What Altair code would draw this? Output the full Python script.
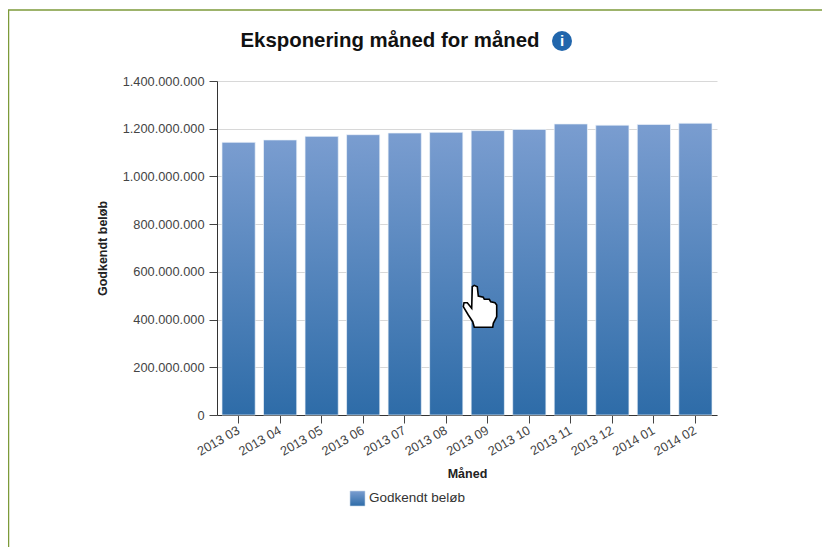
import altair as alt
import pandas as pd

months = ["2013 03", "2013 04", "2013 05", "2013 06", "2013 07", "2013 08",
          "2013 09", "2013 10", "2013 11", "2013 12", "2014 01", "2014 02"]
values = [1143000000, 1153000000, 1168000000, 1175000000, 1182000000, 1185000000,
          1192000000, 1197000000, 1220000000, 1215000000, 1218000000, 1223000000]
y_ticks = [0, 200000000, 400000000, 600000000, 800000000, 1000000000, 1200000000, 1400000000]

FONT = "Liberation Sans"
grad = alt.Gradient(gradient="linear", x1=0, y1=0, x2=0, y2=1, stops=[
    alt.GradientStop(offset=0, color="#7a9dd0"),
    alt.GradientStop(offset=1, color="#2e6ca8"),
])

df = pd.DataFrame({"month": months, "value": values})
one = pd.DataFrame({"a": [0]})

bars = alt.Chart(df).mark_bar(color=grad, stroke="#eef3f9", strokeWidth=0.7).encode(
    x=alt.X("month:N", sort=months,
            scale=alt.Scale(paddingInner=0.2, paddingOuter=0.12),
            axis=alt.Axis(title="Måned", labelAngle=-30, labelAlign="right", labelBaseline="middle",
                          labelFontSize=12.8, labelColor="#444444", labelFont=FONT, labelPadding=6,
                          titleFont=FONT, titleFontSize=12.5, titleFontWeight="bold", titleColor="#222222",
                          titlePadding=9, tickSize=8, tickColor="#444444", domainColor="#333333",
                          grid=False)),
    y=alt.Y("value:Q", scale=alt.Scale(domain=[0, 1400000000], nice=False),
            axis=alt.Axis(title="Godkendt beløb", values=y_ticks,
                          labelExpr="replace(format(datum.value, ','), /,/g, '.')",
                          labelFontSize=12.8, labelColor="#444444", labelFont=FONT, labelPadding=5,
                          titleFont=FONT, titleFontSize=12.5, titleFontWeight="bold", titleColor="#222222",
                          titlePadding=13, tickSize=8, tickColor="#444444", domainColor="#333333",
                          gridColor="#d8d8d8", grid=True)),
)

def text(label, x, y, **kw):
    return alt.Chart(one).mark_text(**kw).encode(
        x=alt.value(x), y=alt.value(y), text=alt.value(label))

# page frame (top and left rules)
frame_top = alt.Chart(one).mark_rule(color="#7d9a3a", strokeWidth=1.5).encode(
    x=alt.value(-209), x2=alt.value(605), y=alt.value(-71))
frame_left = alt.Chart(one).mark_rule(color="#7d9a3a", strokeWidth=1.5).encode(
    x=alt.value(-208.5), y=alt.value(-71), y2=alt.value(466))

title = text("Eksponering måned for måned", 173, -40, font=FONT, fontSize=20.4, fontWeight="bold",
             color="#111111")
info = alt.Chart(one).mark_point(filled=True, size=400, color="#2166ac", opacity=1).encode(
    x=alt.value(345), y=alt.value(-40))
info_i = text("i", 345, -40, font=FONT, fontSize=15, fontWeight="bold", color="white")

legend_box = alt.Chart(one).mark_rect(color=grad, stroke="#c8d6e8", strokeWidth=0.6).encode(
    x=alt.value(133), x2=alt.value(148), y=alt.value(76 + 334), y2=alt.value(91 + 334))
legend_txt = text("Godkendt beløb", 152, 83 + 334, font=FONT, fontSize=13.5, color="#333333", align="left")

hand_path = ("M-9.7,-19.3 L-7.7,-20.7 L-4.7,-19.3 L-3.7,-10 L1.3,-8.7 L2.3,-6.7 L7.3,-6.7 L8.7,-4.3 "
             "L13,-3.3 L14.7,-1 L14.7,10.7 L11.3,17.3 L10.7,21.3 L-7.7,21.3 L-9.3,15.7 L-13.7,9 "
             "L-18.7,0.7 L-18,-3.3 L-14.7,-3.3 L-10.3,2.3 Z")
hand = alt.Chart(one).mark_point(shape=hand_path, filled=True, size=4, fill="white", stroke="black",
                                 strokeWidth=1.6, opacity=1, fillOpacity=1).encode(
    x=alt.value(265), y=alt.value(225))

chart = alt.layer(bars, frame_top, frame_left, title, info, info_i, legend_box, legend_txt, hand).properties(
    width=500, height=334,
    padding={"left": 209, "top": 73, "right": 105, "bottom": 132},
    autosize=alt.AutoSizeParams(type="none"),
    background="white",
).configure_view(stroke=None)

chart.save("out.html", embed_options={"renderer": "svg", "actions": False})
